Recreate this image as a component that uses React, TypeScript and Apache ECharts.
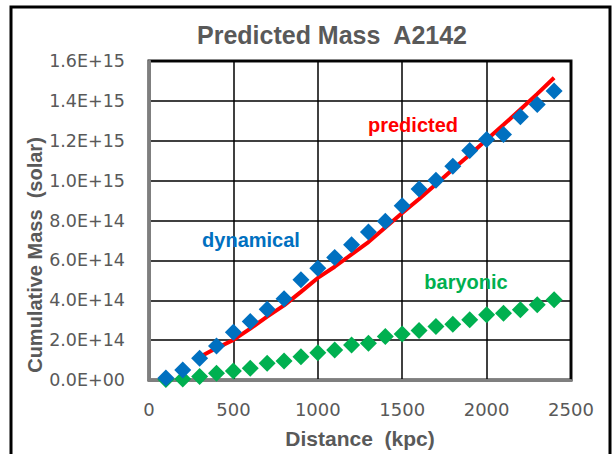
import React, { useEffect, useRef } from "react";
import * as echarts from "echarts";

// Distance (kpc)
const distances = [100, 200, 300, 400, 500, 600, 700, 800, 900, 1000, 1100, 1200, 1300, 1400, 1500, 1600, 1700, 1800, 1900, 2000, 2100, 2200, 2300, 2400];
// Dynamical mass (solar)
const dynamical = [1.0e13, 5.0e13, 1.09e14, 1.71e14, 2.40e14, 2.93e14, 3.55e14, 4.07e14, 5.03e14, 5.61e14, 6.15e14, 6.78e14, 7.42e14, 7.96e14, 8.74e14, 9.58e14, 1.002e15, 1.072e15, 1.151e15, 1.206e15, 1.231e15, 1.320e15, 1.382e15, 1.449e15];
// Baryonic mass (solar)
const baryonic = [2e12, 5e12, 1.7e13, 3.4e13, 4.5e13, 5.9e13, 8.4e13, 9.5e13, 1.17e14, 1.37e14, 1.51e14, 1.76e14, 1.84e14, 2.18e14, 2.31e14, 2.48e14, 2.68e14, 2.80e14, 3.02e14, 3.27e14, 3.35e14, 3.52e14, 3.77e14, 4.02e14];
// Predicted mass (solar)
const predictedX = [300, 400, 500, 600, 700, 800, 900, 1000, 1100, 1200, 1300, 1400, 1500, 1600, 1700, 1800, 1900, 2000, 2100, 2200, 2300, 2400];
const predicted = [1.15e14, 1.60e14, 2.01e14, 2.58e14, 3.18e14, 3.74e14, 4.42e14, 5.12e14, 5.68e14, 6.30e14, 6.92e14, 7.65e14, 8.38e14, 9.08e14, 9.82e14, 1.057e15, 1.13e15, 1.205e15, 1.28e15, 1.357e15, 1.435e15, 1.516e15];

const title = "Predicted Mass  A2142";
const xName = "Distance  (kpc)";
const yName = "Cumulative Mass  (solar)";

const GRAY = "#595959";

function fmtExp(v: number): string {
  if (v === 0) return "0.0E+00";
  const e = Math.floor(Math.log10(Math.abs(v)) + 1e-9);
  const m = v / Math.pow(10, e);
  const es = (e < 0 ? "-" : "+") + String(Math.abs(e)).padStart(2, "0");
  return m.toFixed(1) + "E" + es;
}

export default function App() {
  const ref = useRef<HTMLDivElement>(null);
  useEffect(() => {
    if (!ref.current) return;
    const chart = echarts.init(ref.current, null, { renderer: "svg" });
    chart.setOption({
      animation: false,
      backgroundColor: "#ffffff",
      title: {
        text: title,
        left: 327,
        top: 17,
        textAlign: "center",
        textStyle: { fontFamily: "Liberation Sans", fontWeight: "bold", fontSize: 25, color: GRAY },
      },
      grid: {
        left: 149,
        top: 61,
        right: 43,
        bottom: 74,
        show: true,
        borderColor: "#111",
        borderWidth: 3,
        backgroundColor: "transparent",
      },
      xAxis: {
        type: "value",
        min: 0,
        max: 2500,
        interval: 500,
        name: xName,
        nameLocation: "middle",
        nameGap: 48,
        nameTextStyle: { fontFamily: "Liberation Sans", fontWeight: "bold", fontSize: 21, color: GRAY },
        axisLine: { show: true, lineStyle: { color: "#7f7f7f", width: 3 } },
        axisTick: { show: false },
        axisLabel: { margin: 20, fontFamily: "DejaVu Sans", fontSize: 18, color: GRAY, formatter: (v: number) => String(v) },
        splitLine: { show: true, lineStyle: { color: "#000", width: 1.5 } },
      },
      yAxis: {
        type: "value",
        min: 0,
        max: 1.6e15,
        interval: 2e14,
        axisLine: { show: true, lineStyle: { color: "#7f7f7f", width: 3 } },
        axisTick: { show: false },
        axisLabel: { margin: 24, fontFamily: "DejaVu Sans", fontSize: 17.5, color: GRAY, formatter: (v: number) => fmtExp(v) },
        splitLine: { show: true, lineStyle: { color: "#000", width: 1.5 } },
      },
      graphic: [
        {
          type: "rect",
          shape: { x: 11, y: 7, width: 599, height: 470 },
          style: { fill: "none", stroke: "#000", lineWidth: 3 },
          silent: true,
        },
        {
          type: "text",
          x: 35,
          y: 255,
          rotation: Math.PI / 2,
          style: {
            text: yName,
            fontFamily: "Liberation Sans",
            fontWeight: "bold",
            fontSize: 20,
            fill: GRAY,
            textAlign: "center",
            textVerticalAlign: "middle",
          },
        },
        {
          type: "text",
          x: 413,
          y: 125,
          style: { text: "predicted", fontFamily: "Liberation Sans", fontWeight: "bold", fontSize: 20, fill: "#FF0000", textAlign: "center", textVerticalAlign: "middle" },
          z: 100,
        },
        {
          type: "text",
          x: 251,
          y: 240,
          style: { text: "dynamical", fontFamily: "Liberation Sans", fontWeight: "bold", fontSize: 20, fill: "#0070C0", textAlign: "center", textVerticalAlign: "middle" },
          z: 100,
        },
        {
          type: "text",
          x: 466,
          y: 282,
          style: { text: "baryonic", fontFamily: "Liberation Sans", fontWeight: "bold", fontSize: 20, fill: "#00B050", textAlign: "center", textVerticalAlign: "middle" },
          z: 100,
        },
      ],
      series: [
        {
          name: "baryonic",
          type: "scatter",
          symbol: "diamond",
          symbolSize: 17,
          itemStyle: { color: "#00B050", opacity: 1 },
          data: distances.map((d, i) => [d, baryonic[i]]),
          z: 2,
        },
        {
          name: "predicted",
          type: "line",
          showSymbol: false,
          symbol: "none",
          lineStyle: { color: "#FF0000", width: 4 },
          data: predictedX.map((d, i) => [d, predicted[i]]),
          z: 3,
        },
        {
          name: "dynamical",
          type: "scatter",
          symbol: "diamond",
          symbolSize: 17,
          itemStyle: { color: "#0070C0", opacity: 1 },
          data: distances.map((d, i) => [d, dynamical[i]]),
          z: 4,
        },
      ],
    });
    return () => chart.dispose();
  }, []);
  return <div ref={ref} style={{ position: "fixed", left: 0, top: 0, width: 614, height: 454 }} />;
}
